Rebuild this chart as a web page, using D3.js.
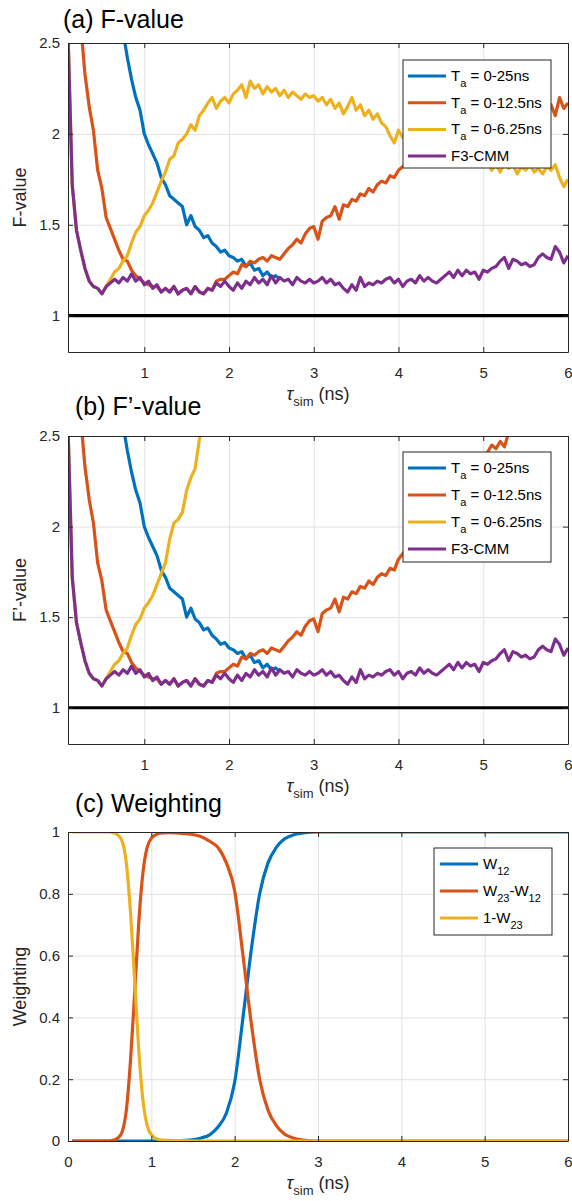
<!DOCTYPE html>
<html>
<head>
<meta charset="utf-8">
<style>
body { margin: 0; background: #fff; }
svg { font-family: "Liberation Sans", Arial, sans-serif; }
text, tspan { white-space: pre; }
.grid line { stroke: #e2e2e2; stroke-width: 1; }
.grid path { display: none; }
.axis path, .axis line { stroke: #262626; stroke-width: 1; }
.axis text { fill: #262626; font-size: 15px; font-family: "Liberation Sans", Arial, sans-serif; }
.series { fill: none; stroke-width: 3.2; stroke-linejoin: round; stroke-linecap: butt; }
</style>
</head>
<body>
<script src="https://cdn.jsdelivr.net/npm/d3@7"></script>
<script>
// sampling of the F-value curves (ns)
var tStep = 0.05;

// F3-CMM, from t = 0.10 ns
var fCMM = [2.55, 1.72, 1.47, 1.36, 1.26, 1.19, 1.16, 1.15, 1.12, 1.16, 1.18, 1.2, 1.18, 1.21, 1.19, 1.23, 1.19, 1.21,
  1.17, 1.19, 1.15, 1.17, 1.13, 1.15, 1.13, 1.16, 1.12, 1.14, 1.15, 1.12, 1.16, 1.13, 1.12, 1.15, 1.14, 1.18, 1.16, 1.19,
  1.16, 1.14, 1.18, 1.15, 1.19, 1.17, 1.21, 1.18, 1.2, 1.17, 1.22, 1.18, 1.21, 1.19, 1.2, 1.17, 1.21, 1.19, 1.18, 1.2,
  1.18, 1.19, 1.21, 1.18, 1.2, 1.17, 1.18, 1.15, 1.13, 1.17, 1.14, 1.21, 1.16, 1.18, 1.17, 1.19, 1.18, 1.2, 1.21, 1.18,
  1.2, 1.16, 1.19, 1.2, 1.18, 1.22, 1.19, 1.21, 1.19, 1.18, 1.2, 1.22, 1.24, 1.21, 1.25, 1.22, 1.25, 1.23, 1.24, 1.2,
  1.25, 1.24, 1.26, 1.27, 1.3, 1.32, 1.26, 1.31, 1.3, 1.28, 1.29, 1.27, 1.28, 1.32, 1.34, 1.32, 1.31, 1.38, 1.35, 1.29,
  1.33];
var cmmT0 = 0.1;

// Ta = 0-25ns, from t = 0.70 ns
var fTa25 = [2.8, 2.56, 2.42, 2.3, 2.2, 2.13,
  2.0, 1.94, 1.89, 1.84, 1.76, 1.72, 1.66, 1.64, 1.62, 1.6, 1.5, 1.55, 1.49, 1.47, 1.43, 1.44, 1.4, 1.38, 1.35, 1.36,
  1.33, 1.32, 1.3, 1.31, 1.27, 1.29, 1.25, 1.26, 1.22, 1.24, 1.21, 1.22, 1.2];
var ta25T0 = 0.7;

// Ta = 0-12.5ns, from t = 0.25 ns
var fTa125 = [2.6, 2.33, 2.15, 2.02, 1.8, 1.7, 1.54, 1.48, 1.42, 1.36, 1.31, 1.3, 1.25, 1.22, 1.2,
  1.18, 1.17, 1.16, 1.16, 1.13, 1.15, 1.13, 1.16, 1.12, 1.14, 1.15, 1.12, 1.16, 1.13, 1.12, 1.15, 1.14, 1.19, 1.2, 1.2,
  1.22, 1.24, 1.23, 1.28, 1.27, 1.3, 1.29, 1.31, 1.32, 1.3, 1.33, 1.32, 1.31, 1.34, 1.37, 1.39, 1.42, 1.4, 1.45, 1.48,
  1.49, 1.42, 1.52, 1.54, 1.55, 1.6, 1.53, 1.61, 1.6, 1.64, 1.63, 1.67, 1.66, 1.7, 1.68, 1.72, 1.74, 1.73, 1.77, 1.76,
  1.8, 1.82, 1.84, 1.83, 1.86, 1.87, 1.88, 1.9, 1.89, 1.92, 1.93, 1.94, 1.95, 1.97, 1.96, 1.99, 2.0, 2.01, 2.03, 2.02,
  2.04, 2.05, 2.06, 2.04, 2.08, 2.07, 2.1, 2.09, 2.12, 2.1, 2.13, 2.12, 2.15, 2.11, 2.14, 2.13, 2.16, 2.1, 2.2, 2.14,
  2.17];
var ta125T0 = 0.25;

// Ta = 0-6.25ns, from t = 0.10 ns
var fTa625 = [2.55, 1.72, 1.47, 1.36, 1.26, 1.19, 1.16, 1.15, 1.12, 1.16, 1.2, 1.24, 1.26, 1.3, 1.33, 1.4, 1.46, 1.49,
  1.55, 1.58, 1.62, 1.68, 1.74, 1.79, 1.86, 1.88, 1.95, 1.97, 2.0, 2.05, 2.02, 2.1, 2.13, 2.17, 2.2, 2.14, 2.18, 2.2,
  2.17, 2.22, 2.24, 2.27, 2.2, 2.29, 2.25, 2.27, 2.22, 2.26, 2.23, 2.25, 2.21, 2.24, 2.2, 2.23, 2.21, 2.19, 2.22, 2.2,
  2.21, 2.18, 2.2, 2.16, 2.19, 2.14, 2.17, 2.11, 2.15, 2.2, 2.13, 2.16, 2.1, 2.13, 2.08, 2.11, 2.06, 2.04, 1.99, 1.95,
  2.02, 1.98, 1.96, 1.99, 1.95, 1.93, 1.96, 1.92, 1.9, 1.93, 1.89, 1.9, 1.87, 1.89, 1.86, 1.88, 1.85, 1.87, 1.84, 1.86,
  1.83, 1.85, 1.8, 1.83, 1.79, 1.84, 1.81, 1.83, 1.78, 1.82, 1.8, 1.83, 1.79, 1.81, 1.78, 1.82, 1.8, 1.83, 1.76, 1.71,
  1.75];
var ta625T0 = 0.1;

// F'-value: same as F-value early on, then these tails
var fpTa125Tail = [1.82, 1.85, 1.88, 1.9, 1.93, 1.96, 1.99, 2.02, 2.04, 2.07, 2.1, 2.13, 2.15, 2.18, 2.21, 2.24, 2.27, 2.3, 2.33, 2.35,
  2.38, 2.41, 2.45, 2.43, 2.47, 2.44, 2.52, 2.62];          // from t = 4.00 ns
var fpTa625Tail = [1.8, 1.93, 2.02, 2.04, 2.08, 2.2, 2.27, 2.32, 2.48, 2.62, 2.8]; // from t = 1.25 ns
var fpTa125 = fTa125.slice(0, 75).concat(fpTa125Tail);
var fpTa625 = fTa625.slice(0, 23).concat(fpTa625Tail);

// weighting functions
var wTime = [0.05, 0.5, 0.55, 0.6, 0.65, 0.7, 0.75, 0.8, 0.85, 0.9, 0.95, 1.0, 1.1, 1.2, 1.4, 1.6, 1.7, 1.8, 1.9, 2.0,
  2.1, 2.2, 2.3, 2.4, 2.5, 2.6, 2.7, 2.8, 3.0, 4.0, 5.0, 6.0];
var w12 = [0, 0, 0, 0, 0, 0, 0, 0, 0, 0, 0, 0, 0, 0, 0.002, 0.01, 0.02, 0.045, 0.09, 0.19,
  0.4, 0.62, 0.8, 0.9, 0.95, 0.978, 0.99, 0.996, 1, 1, 1, 1];
var w23m12 = [0, 0, 0.003, 0.01, 0.03, 0.1, 0.26, 0.48, 0.71, 0.87, 0.95, 0.98, 0.996, 0.998, 0.995, 0.985, 0.97, 0.95, 0.9, 0.81,
  0.6, 0.38, 0.2, 0.1, 0.05, 0.022, 0.01, 0.004, 0, 0, 0, 0];
var oneMw23 = [1, 1, 0.997, 0.99, 0.97, 0.9, 0.74, 0.52, 0.29, 0.13, 0.05, 0.02, 0.004, 0.002, 0.001, 0, 0, 0, 0, 0,
  0, 0, 0, 0, 0, 0, 0, 0, 0, 0, 0, 0];

var fLabels = ["T_a = 0-25ns", "T_a = 0-12.5ns", "T_a = 0-6.25ns", "F3-CMM"];
var wLabels = ["W_{12}", "W_{23}-W_{12}", "1-W_{23}"];
var colors = ["#0072BD", "#D95319", "#EDB120", "#7E2F8E"];

var svg = d3.select("body").append("svg").attr("width", 572).attr("height", 1201);
var W = 500;

function seq(t0, vals) {
  return vals.map(function(v, i) { return {t: t0 + i * tStep, v: v}; });
}
function pairs(ts, vals) {
  return ts.map(function(t, i) { return {t: t, v: vals[i]}; });
}

// MATLAB-like TeX subscripts: T_a, W_{23}
function addTex(sel, str, shift, subSize) {
  var re = /_\{([^}]*)\}|_(.)/g, last = 0, m, low = false;
  function put(s, sub) {
    var ts = sel.append("tspan").text(s);
    if (sub && !low) { ts.attr("dy", shift); low = true; }
    else if (!sub && low) { ts.attr("dy", -shift); low = false; }
    if (sub) ts.attr("font-size", subSize);
  }
  while ((m = re.exec(str)) !== null) {
    if (m.index > last) put(str.slice(last, m.index), false);
    put(m[1] || m[2], true);
    last = re.lastIndex;
  }
  if (last < str.length) put(str.slice(last), false);
}

function drawPanel(p) {
  var g = svg.append("g").attr("transform", "translate(" + p.left + "," + p.top + ")");
  var H = p.height;
  var x = d3.scaleLinear().domain(p.xDomain).range([0, W]);
  var y = d3.scaleLinear().domain(p.yDomain).range([H, 0]);
  var fmt = d3.format("~g");

  g.append("g").attr("class", "grid")
    .call(d3.axisBottom(x).tickValues(p.xTicks).tickSize(H).tickFormat(""));
  g.append("g").attr("class", "grid")
    .call(d3.axisLeft(y).tickValues(p.yTicks).tickSize(-W).tickFormat(""));

  var clipId = "clip-" + p.id;
  g.append("clipPath").attr("id", clipId)
    .append("rect").attr("width", W).attr("height", H);

  var line = d3.line()
    .defined(function(d) { return d.v != null; })
    .x(function(d) { return x(d.t); })
    .y(function(d) { return y(d.v); });
  if (p.curve) line.curve(p.curve);

  var plot = g.append("g").attr("clip-path", "url(#" + clipId + ")");
  p.series.forEach(function(s, i) {
    plot.append("path").attr("class", "series")
      .attr("stroke", colors[i])
      .attr("d", line(s));
  });
  if (p.refLine != null) {
    plot.append("path").attr("class", "series")
      .attr("stroke", "#000").attr("stroke-width", 3.5)
      .attr("d", line([{t: p.xDomain[0], v: p.refLine}, {t: p.xDomain[1], v: p.refLine}]));
  }

  // box axes, ticks pointing inwards
  g.append("g").attr("class", "axis").attr("transform", "translate(0," + H + ")")
    .call(d3.axisBottom(x).tickValues(p.xTicks).tickSizeInner(-5).tickSizeOuter(0).tickPadding(15).tickFormat(fmt));
  g.append("g").attr("class", "axis")
    .call(d3.axisTop(x).tickValues(p.xTicks).tickSizeInner(-5).tickSizeOuter(0).tickFormat(""));
  g.append("g").attr("class", "axis")
    .call(d3.axisLeft(y).tickValues(p.yTicks).tickSizeInner(-5).tickSizeOuter(0).tickPadding(8).tickFormat(fmt));
  g.append("g").attr("class", "axis").attr("transform", "translate(" + W + ",0)")
    .call(d3.axisRight(y).tickValues(p.yTicks).tickSizeInner(-5).tickSizeOuter(0).tickFormat(""));

  // title
  svg.append("text").attr("x", p.titleX).attr("y", p.titleY)
    .attr("font-size", 25).attr("fill", "#000").text(p.title);

  // y label
  svg.append("text")
    .attr("transform", "translate(26," + (p.top + H / 2) + ") rotate(-90)")
    .attr("text-anchor", "middle").attr("font-size", 18).attr("fill", "#262626")
    .text(p.ylabel);

  // x label: tau_sim (ns)
  var xl = svg.append("text").attr("x", p.left + W / 2).attr("y", p.top + H + 48)
    .attr("text-anchor", "middle").attr("font-size", 18).attr("fill", "#262626");
  addTex(xl, "\u03c4_{sim} (ns)", 6, 13);
  xl.select("tspan").attr("font-style", "italic");

  // legend
  var lg = p.legend;
  var box = svg.append("g").attr("transform", "translate(" + lg.x + "," + lg.y + ")");
  box.append("rect").attr("width", lg.w).attr("height", lg.h)
    .attr("fill", "#fff").attr("stroke", "#262626").attr("stroke-width", 1);
  lg.labels.forEach(function(lab, i) {
    var yy = lg.row0 + i * lg.rowStep;
    box.append("line").attr("x1", lg.lineX0).attr("x2", lg.lineX0 + 38)
      .attr("y1", yy).attr("y2", yy)
      .attr("stroke", colors[i]).attr("stroke-width", 3);
    var txt = box.append("text").attr("x", lg.lineX0 + 43).attr("y", yy + 5)
      .attr("font-size", 15).attr("fill", "#000");
    addTex(txt, lab, 6, 11);
  });
}

drawPanel({
  id: "a", left: 68, top: 43, height: 309,
  xDomain: [0.1, 6], xTicks: [1, 2, 3, 4, 5, 6],
  yDomain: [0.8, 2.5], yTicks: [1, 1.5, 2, 2.5],
  series: [seq(ta25T0, fTa25), seq(ta125T0, fTa125), seq(ta625T0, fTa625), seq(cmmT0, fCMM)],
  refLine: 1,
  title: "(a) F-value", titleX: 63, titleY: 28, ylabel: "F-value",
  legend: {x: 403, y: 60, w: 148, h: 108, row0: 16, rowStep: 26.7, lineX0: 5, labels: fLabels}
});

drawPanel({
  id: "b", left: 68, top: 436, height: 308,
  xDomain: [0.1, 6], xTicks: [1, 2, 3, 4, 5, 6],
  yDomain: [0.8, 2.5], yTicks: [1, 1.5, 2, 2.5],
  series: [seq(ta25T0, fTa25), seq(ta125T0, fpTa125), seq(ta625T0, fpTa625), seq(cmmT0, fCMM)],
  refLine: 1,
  title: "(b) F\u2019-value", titleX: 75, titleY: 415, ylabel: "F\u2019-value",
  legend: {x: 403, y: 452, w: 148, h: 110, row0: 16, rowStep: 27, lineX0: 5, labels: fLabels}
});

drawPanel({
  id: "c", left: 68, top: 832, height: 309,
  xDomain: [0, 6], xTicks: [0, 1, 2, 3, 4, 5, 6],
  yDomain: [0, 1], yTicks: [0, 0.2, 0.4, 0.6, 0.8, 1],
  series: [pairs(wTime, w12), pairs(wTime, w23m12), pairs(wTime, oneMw23)],
  curve: d3.curveMonotoneX,
  refLine: null,
  title: "(c) Weighting", titleX: 75, titleY: 812, ylabel: "Weighting",
  legend: {x: 434, y: 848, w: 118, h: 87, row0: 16, rowStep: 27, lineX0: 6, labels: wLabels}
});
</script>
</body>
</html>
